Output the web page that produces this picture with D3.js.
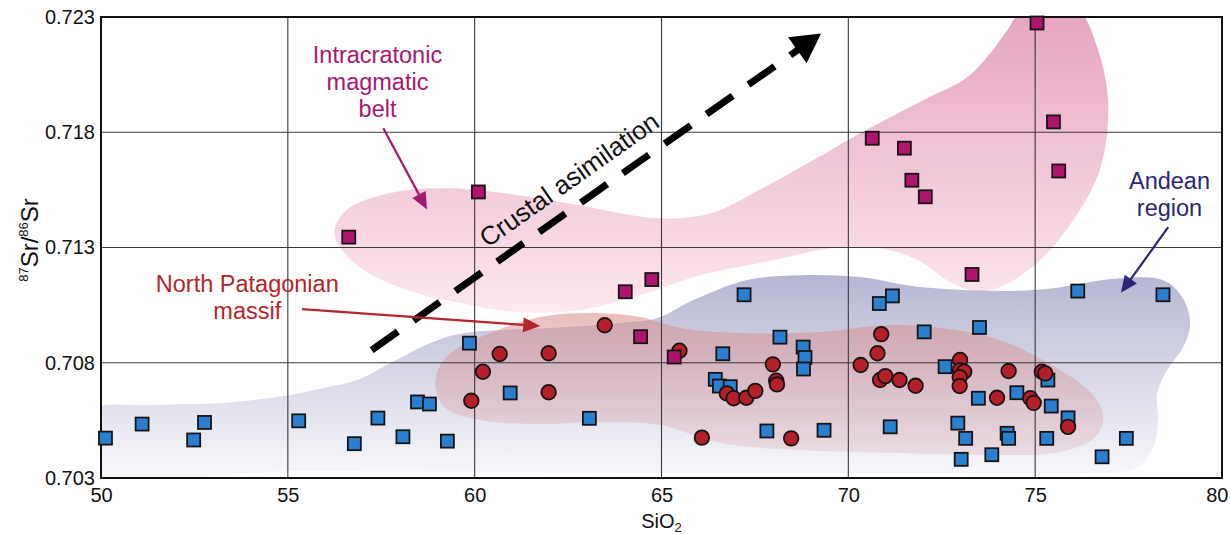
<!DOCTYPE html>
<html><head><meta charset="utf-8">
<script src="https://cdn.jsdelivr.net/npm/d3@7"></script>
<style>
body{margin:0;background:#fff}
svg text{font-family:"Liberation Sans",Arial,Helvetica,sans-serif}
</style>
</head><body>
<svg id="chart" width="1230" height="534"></svg>
<script>
// ---------- DATA ----------
const xTicks = [50, 55, 60, 65, 70, 75, 80];
const yTicks = [0.703, 0.708, 0.713, 0.718, 0.723];

// Andean region (blue squares) [SiO2, 87Sr/86Sr]
const andean = [
  [50.12,0.70473],[51.10,0.70534],[52.48,0.70465],[52.77,0.70541],[55.29,0.70548],
  [56.78,0.70449],[57.41,0.70560],[58.08,0.70479],[58.47,0.70630],[58.79,0.70621],
  [59.27,0.70460],[59.86,0.70885],[60.95,0.70669],[63.07,0.70559],[66.44,0.70728],
  [66.55,0.70699],[66.84,0.70696],[66.64,0.70839],[67.21,0.71095],[67.82,0.70504],
  [68.17,0.70911],[68.79,0.70868],[68.84,0.70823],[68.80,0.70773],[69.35,0.70507],
  [70.83,0.71057],[71.18,0.71090],[71.12,0.70522],[72.03,0.70934],[72.59,0.70783],
  [72.93,0.70538],[73.02,0.70381],[73.14,0.70472],[73.48,0.70646],[73.51,0.70953],
  [73.84,0.70401],[74.25,0.70494],[74.29,0.70472],[74.51,0.70670],[75.31,0.70472],
  [75.34,0.70725],[75.43,0.70612],[75.88,0.70561],[76.14,0.71111],[76.79,0.70392],
  [77.44,0.70472],[78.42,0.71095]
];
// North Patagonian massif (red circles)
const patagonian = [
  [59.91,0.70635],[60.22,0.70761],[60.67,0.70838],[61.98,0.70841],[61.98,0.70672],
  [63.48,0.70963],[65.48,0.70852],[66.08,0.70475],[66.75,0.70667],[66.93,0.70646],
  [67.27,0.70648],[67.51,0.70678],[67.98,0.70793],[68.07,0.70722],[68.09,0.70706],
  [68.47,0.70472],[70.33,0.70790],[70.78,0.70841],[70.88,0.70924],[70.85,0.70725],
  [70.99,0.70742],[71.37,0.70725],[71.80,0.70700],[72.99,0.70812],[72.99,0.70768],
  [73.10,0.70761],[72.98,0.70737],[72.98,0.70699],[73.98,0.70648],[74.29,0.70764],
  [74.87,0.70646],[74.96,0.70626],[75.18,0.70761],[75.27,0.70754],[75.88,0.70522]
];
// Intracratonic magmatic belt (magenta squares)
const intracratonic = [
  [56.63,0.71345],[60.10,0.71541],[64.03,0.71108],[64.74,0.71161],[64.44,0.70913],
  [65.34,0.70825],[75.05,0.72274],[70.64,0.71774],[71.50,0.71731],[71.70,0.71592],
  [72.06,0.71520],[75.49,0.71845],[75.63,0.71632],[73.31,0.71183]
];

// field outlines [SiO2, 87Sr/86Sr]
const fieldIntracratonic = [
  [56.243,0.713622],[56.564,0.714619],[57.715,0.715356],[59.160,0.715573],[60.578,0.715400],
  [62.505,0.714923],[64.886,0.714273],[66.331,0.714489],[67.749,0.715617],[69.195,0.716917],
  [70.318,0.717958],[72.004,0.719389],[73.181,0.720386],[73.797,0.721426],[74.252,0.722423],
  [74.599,0.723204],[75.402,0.723507],[76.205,0.723204],[76.660,0.721686],[76.927,0.719822],
  [76.927,0.717958],[76.660,0.716050],[76.018,0.714186],[75.134,0.712452],[74.064,0.711281],
  [73.396,0.711108],[72.727,0.711498],[72.004,0.712322],[71.121,0.712885],[69.783,0.713015],
  [67.749,0.712365],[66.037,0.711801],[64.431,0.710934],[62.826,0.710284],[61.059,0.710197],
  [59.641,0.710587],[58.196,0.711151],[56.778,0.712322]
];
const fieldAndean = [
  [49.580,0.705862],[51.507,0.706165],[53.273,0.706252],[55.065,0.706599],[55.949,0.706902],
  [56.858,0.707249],[57.902,0.708116],[58.812,0.708853],[59.721,0.709287],[62.023,0.709503],
  [63.896,0.709720],[64.886,0.709937],[65.849,0.710717],[67.267,0.711584],[68.712,0.711801],
  [70.318,0.711715],[71.923,0.711281],[74.948,0.711151],[77.276,0.711671],[78.427,0.711584],
  [78.935,0.710847],[79.149,0.709720],[78.961,0.708680],[78.533,0.707682],[78.266,0.706685],
  [78.292,0.705515],[78.159,0.704344],[77.731,0.703477],[76.392,0.703173],[71.388,0.703173],
  [66.037,0.703217],[60.685,0.703260],[55.333,0.703303],[49.580,0.703347]
];
const fieldPatagonian = [
  [58.946,0.707032],[59.213,0.708203],[60.417,0.709287],[61.755,0.709980],[63.093,0.710154],
  [64.431,0.709980],[65.502,0.709503],[67.107,0.709287],[69.248,0.709330],[71.121,0.709633],
  [72.860,0.709417],[74.198,0.708896],[75.536,0.707813],[76.473,0.706729],[76.820,0.705731],
  [76.606,0.704778],[75.670,0.704127],[73.797,0.703997],[71.388,0.704084],[68.712,0.704214],
  [66.572,0.704517],[64.966,0.705298],[63.361,0.705428],[61.755,0.705341],[60.150,0.705515],
  [59.213,0.706035]
];

// annotations (data units)
const crustalArrow = {from:[57.244,0.70855], to:[69.27,0.722281]};
const crustalLabel = {text:"Crustal asimilation", at:[62.666,0.715634]};
const labels = [
  {lines:["Intracratonic","magmatic","belt"], at:[57.40,0.720993], color:"#a8176e",
   arrow:{from:[57.555,0.718175], to:[58.726,0.714650]}},
  {lines:["North Patagonian","massif"], at:[53.915,0.711064], color:"#b3262b",
   arrow:{from:[55.381,0.710327], to:[61.755,0.709590]}},
  {lines:["Andean","region"], at:[78.595,0.715517], color:"#2b2676",
   arrow:{from:[78.56,0.713882], to:[77.295,0.711034]}}
];

// ---------- LAYOUT ----------
const W = 1230, H = 534;
const m = {left:101, right:8, top:17, bottom:56};
const svg = d3.select("#chart");
const x = d3.scaleLinear().domain([50,80]).range([m.left, W-m.right]);
const y = d3.scaleLinear().domain([0.703,0.723]).range([H-m.bottom, m.top]);

const defs = svg.append("defs");
defs.append("clipPath").attr("id","plotclip").append("rect")
  .attr("x",m.left).attr("y",m.top).attr("width",W-m.left-m.right).attr("height",H-m.top-m.bottom);

function grad(id, y1, y2, stops){
  const g = defs.append("linearGradient").attr("id",id)
    .attr("gradientUnits","userSpaceOnUse").attr("x1",0).attr("x2",0).attr("y1",y1).attr("y2",y2);
  stops.forEach(s=>g.append("stop").attr("offset",s[0]).attr("stop-color",s[1]).attr("stop-opacity",s[2]));
}
grad("gPink", y(0.723), y(0.710), [[0,"#e6a5c1",1],[1,"#fde9ef",1]]);
grad("gBlue", y(0.7118), y(0.7032), [[0,"#b2b2d0",0.95],[1,"#f6f6fa",0.9]]);
grad("gRed",  y(0.7102), y(0.7040), [[0,"#d98a86",0.55],[1,"#d69aa6",0.25]]);

const area = d3.line().x(d=>x(d[0])).y(d=>y(d[1])).curve(d3.curveCatmullRomClosed.alpha(0.5));
const fields = svg.append("g").attr("clip-path","url(#plotclip)");
fields.append("path").attr("d",area(fieldIntracratonic)).attr("fill","url(#gPink)");
fields.append("path").attr("d",area(fieldAndean)).attr("fill","url(#gBlue)");
fields.append("path").attr("d",area(fieldPatagonian)).attr("fill","url(#gRed)");

// grid
const grid = svg.append("g");
grid.selectAll(".vg").data(xTicks.slice(1,-1)).join("line")
  .attr("x1",d=>x(d)).attr("x2",d=>x(d)).attr("y1",m.top).attr("y2",H-m.bottom)
  .attr("stroke","#3a3a3a").attr("stroke-width",1.1);
grid.selectAll(".hg").data(yTicks.slice(1,-1)).join("line")
  .attr("y1",d=>y(d)).attr("y2",d=>y(d)).attr("x1",m.left).attr("x2",W-m.right)
  .attr("stroke","#3a3a3a").attr("stroke-width",1.1);
svg.append("rect").attr("x",m.left).attr("y",m.top)
  .attr("width",W-m.left-m.right).attr("height",H-m.top-m.bottom)
  .attr("fill","none").attr("stroke","#111").attr("stroke-width",2);

// axes (tick labels)
const xAxis = d3.axisBottom(x).tickValues(xTicks).tickSize(0).tickPadding(10).tickFormat(d3.format("d"));
const gx = svg.append("g").attr("transform",`translate(0,${H-m.bottom})`).call(xAxis);
gx.select(".domain").remove();
gx.selectAll("text").attr("font-size",20).attr("fill","#111").attr("font-family","Liberation Sans, Arial, sans-serif");
// keep the last label inside the page
gx.selectAll(".tick").filter(d=>d===xTicks[xTicks.length-1]).select("text")
  .attr("text-anchor","end").attr("x",W-2-x(xTicks[xTicks.length-1]));
const yAxis = d3.axisLeft(y).tickValues(yTicks).tickSize(0).tickPadding(6).tickFormat(d3.format(".3f"));
const gy = svg.append("g").attr("transform",`translate(${m.left},0)`).call(yAxis);
gy.select(".domain").remove();
gy.selectAll("text").attr("font-size",20).attr("fill","#111").attr("font-family","Liberation Sans, Arial, sans-serif");

// axis titles
const xt = svg.append("text").attr("x",(m.left+W-m.right)/2).attr("y",528)
  .attr("text-anchor","middle").attr("font-size",20).attr("fill","#111");
xt.append("tspan").text("SiO");
xt.append("tspan").attr("font-size",13).attr("dy",4).text("2");
const yt = svg.append("text").attr("transform","translate(38,240) rotate(-90)")
  .attr("text-anchor","middle").attr("font-size",24).attr("fill","#111");
yt.append("tspan").attr("font-size",13).attr("dy",-10).text("87");
yt.append("tspan").attr("dy",10).text("Sr/");
yt.append("tspan").attr("font-size",13).attr("dy",-10).text("86");
yt.append("tspan").attr("dy",10).text("Sr");

// points
const pts = svg.append("g");
const sq = 13;
pts.selectAll(".a").data(andean).join("rect")
  .attr("x",d=>x(d[0])-sq/2).attr("y",d=>y(d[1])-sq/2).attr("width",sq).attr("height",sq)
  .attr("fill","#2a80d0").attr("stroke","#151515").attr("stroke-width",1.8);
pts.selectAll(".p").data(patagonian).join("circle")
  .attr("cx",d=>x(d[0])).attr("cy",d=>y(d[1])).attr("r",7.3)
  .attr("fill","#b51f25").attr("stroke","#151515").attr("stroke-width",1.8);
pts.selectAll(".i").data(intracratonic).join("rect")
  .attr("x",d=>x(d[0])-sq/2).attr("y",d=>y(d[1])-sq/2).attr("width",sq).attr("height",sq)
  .attr("fill","#b1146f").attr("stroke","#151515").attr("stroke-width",1.8);

// arrow helper
function arrow(g, from, to, color, width, headL, headW, dash){
  const x1=x(from[0]), y1=y(from[1]), x2=x(to[0]), y2=y(to[1]);
  const dx=x2-x1, dy=y2-y1, L=Math.hypot(dx,dy), ux=dx/L, uy=dy/L, nx=-uy, ny=ux;
  const bx=x2-ux*headL, by=y2-uy*headL;
  const ln = g.append("line").attr("x1",x1).attr("y1",y1).attr("x2",bx+ux*1).attr("y2",by+uy*1)
    .attr("stroke",color).attr("stroke-width",width);
  if(dash) ln.attr("stroke-dasharray",dash);
  g.append("path").attr("d",`M${x2},${y2}L${bx+nx*headW},${by+ny*headW}L${bx-nx*headW},${by-ny*headW}Z`)
    .attr("fill",color);
}
const ann = svg.append("g");
arrow(ann, crustalArrow.from, crustalArrow.to, "#000", 7, 29, 16, "32 19.2");
{
  const ang = Math.atan2(y(crustalArrow.to[1])-y(crustalArrow.from[1]), x(crustalArrow.to[0])-x(crustalArrow.from[0]))*180/Math.PI;
  ann.append("text").attr("transform",`translate(${x(crustalLabel.at[0])},${y(crustalLabel.at[1])}) rotate(${ang})`)
    .attr("text-anchor","middle").attr("font-size",26).attr("fill","#111").text(crustalLabel.text);
}
labels.forEach(l=>{
  const t = ann.append("text").attr("x",x(l.at[0])).attr("y",y(l.at[1]))
    .attr("text-anchor","middle").attr("font-size",23.5).attr("fill",l.color);
  l.lines.forEach((s,i)=>t.append("tspan").attr("x",x(l.at[0])).attr("dy",i?26.7:0).text(s));
  arrow(ann, l.arrow.from, l.arrow.to, l.color, 2.2, 17, 7.5);
});
</script>
</body></html>
